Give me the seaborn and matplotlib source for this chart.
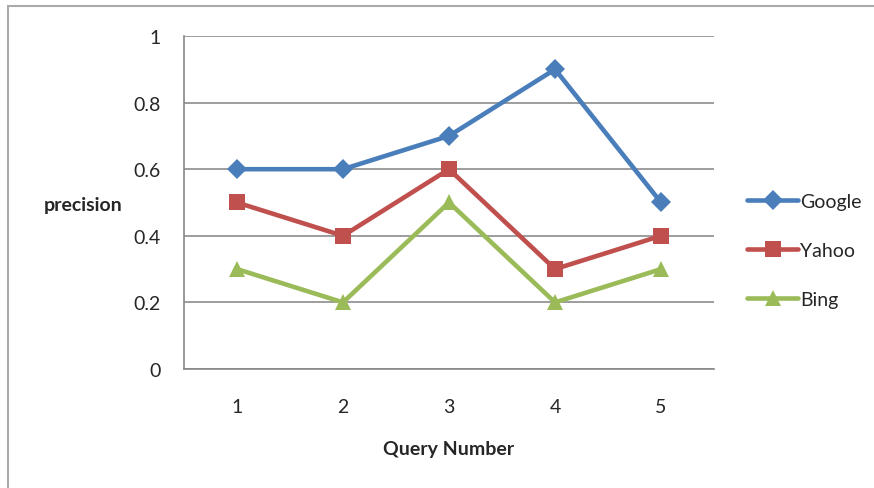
import numpy as np
import pandas as pd
import matplotlib
matplotlib.use("Agg")
import matplotlib.pyplot as plt
import seaborn as sns

queries = [1, 2, 3, 4, 5]
google = [0.6, 0.6, 0.7, 0.9, 0.5]
yahoo = [0.5, 0.4, 0.6, 0.3, 0.4]
bing = [0.3, 0.2, 0.5, 0.2, 0.3]

df = pd.DataFrame({"Query Number": queries, "Google": google,
                   "Yahoo": yahoo, "Bing": bing})
long_df = df.melt(id_vars="Query Number", var_name="engine", value_name="precision")

sns.set_style("white")
plt.rcParams['font.family'] = ['Lato', 'DejaVu Sans']

fig = plt.figure(figsize=(8.74, 4.89), dpi=100)
ax = fig.add_axes([0.2105, 0.2434, 0.6065, 0.6809])

palette = {"Google": "#4a7ebb", "Yahoo": "#c0504d", "Bing": "#9bbb59"}
markers = {"Google": "D", "Yahoo": "s", "Bing": "^"}
sizes = {"Google": 10, "Yahoo": 11, "Bing": 11}

for name in ["Google", "Yahoo", "Bing"]:
    sub = long_df[long_df["engine"] == name]
    sns.lineplot(data=sub, x="Query Number", y="precision", ax=ax,
                 color=palette[name], marker=markers[name],
                 markersize=sizes[name], markeredgewidth=0,
                 linewidth=3.3, label=name)

ax.set_xlim(0.5, 5.5)
ax.set_ylim(0, 1)
ax.set_yticks(np.arange(0, 1.01, 0.2))
ax.set_yticklabels(["0", "0.2", "0.4", "0.6", "0.8", "1"])
ax.set_xticks(queries)
ax.set_xticks(np.arange(0.5, 5.6, 1), minor=True)
ax.tick_params(axis="x", which="major", length=0, pad=21, labelsize=14)
ax.tick_params(axis="x", which="minor", length=6, color="#888888", width=1.2,
               direction="out")
ax.tick_params(axis="y", length=7, color="#888888", width=1.2, direction="out",
               pad=10, labelsize=14)
ax.grid(axis="y", color="#8c8c8c", linewidth=1.2)
ax.set_axisbelow(True)
for s in ["top", "right"]:
    ax.spines[s].set_visible(False)
for s in ["left", "bottom"]:
    ax.spines[s].set_color("#888888")
    ax.spines[s].set_linewidth(1.2)

ax.set_xlabel("Query Number", fontsize=14, fontweight="bold", labelpad=18)
ax.set_ylabel("")
fig.text(0.095, 0.58, "precision", fontsize=14, fontweight="bold",
         ha="center", va="center")

leg = ax.legend(loc="center left", bbox_to_anchor=(1.03, 0.357), frameon=False,
                fontsize=14, handlelength=2.6, handletextpad=0.1,
                labelspacing=1.65)

# frame lines at top and left like the screenshot
fig.add_artist(plt.Line2D([0.009, 1.0], [0.986, 0.986], transform=fig.transFigure,
                          color="#aaaaaa", linewidth=1.5))
fig.add_artist(plt.Line2D([0.009, 0.009], [0.0, 0.986], transform=fig.transFigure,
                          color="#aaaaaa", linewidth=1.5))

fig.savefig("out.png", dpi=100)
